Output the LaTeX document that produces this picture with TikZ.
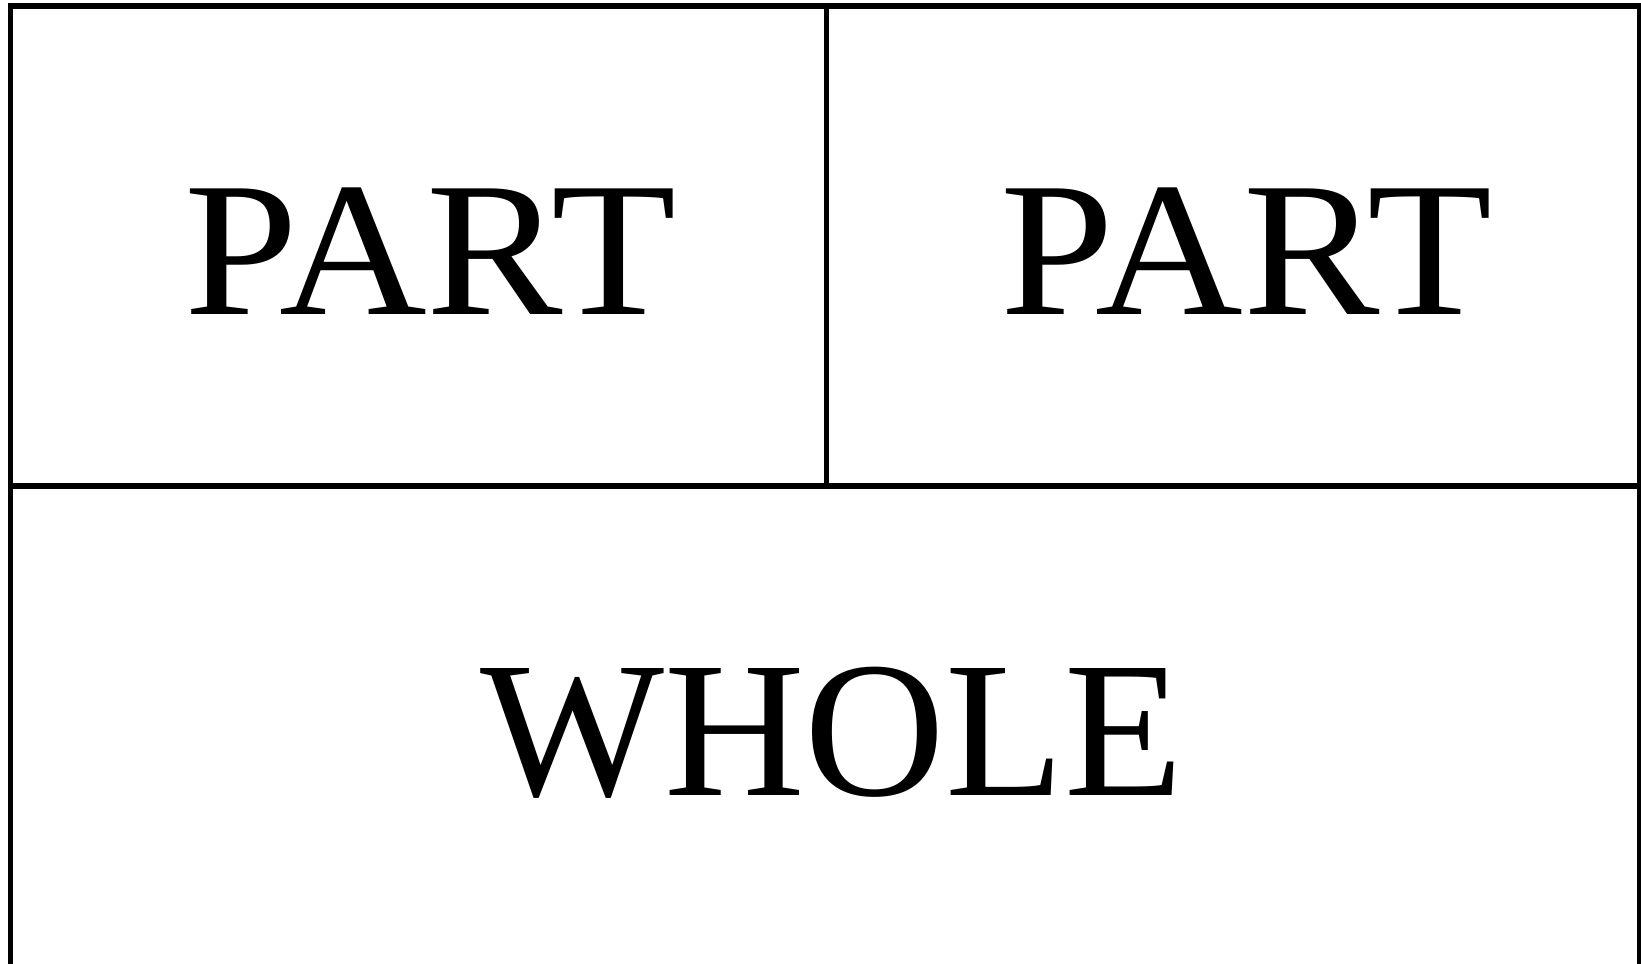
\documentclass[tikz,border=0pt]{standalone}
\usepackage{fontspec}
\setmainfont{Liberation Serif}
\begin{document}
\begin{tikzpicture}[x=0.5pt,y=-0.5pt,
  frame/.style={line width=2.8pt,black},
  label/.style={inner sep=0pt,anchor=base,font=\fontsize{95}{100}\selectfont}]
\useasboundingbox (0,0) rectangle (1641,963);
\fill[white] (0,0) rectangle (1641,963);
\coordinate (tl) at (10.5,6);
\coordinate (tr) at (1640,6);
\coordinate (bl) at (10.5,970);
\coordinate (br) at (1640,970);
\coordinate (ml) at (10.5,486);
\coordinate (mr) at (1640,486);
\coordinate (mt) at (826.5,6);
\coordinate (mm) at (826.5,486);
\draw[frame,line cap=rect] (bl) -- (tl) -- (tr) -- (br);
\draw[frame] (ml) -- (mr);
\draw[frame] (mt) -- (mm);
\node[label] (p1) at (430,314) {\scalebox{1.077}[1.01]{PART}};
\node[label] (p2) at (1246.5,314) {\scalebox{1.077}[1.01]{PART}};
\node[label,font=\fontsize{96}{100}\selectfont] (w) at (832,795.5) {\scalebox{1.015}[1.01]{WHOLE}};
\end{tikzpicture}
\end{document}
